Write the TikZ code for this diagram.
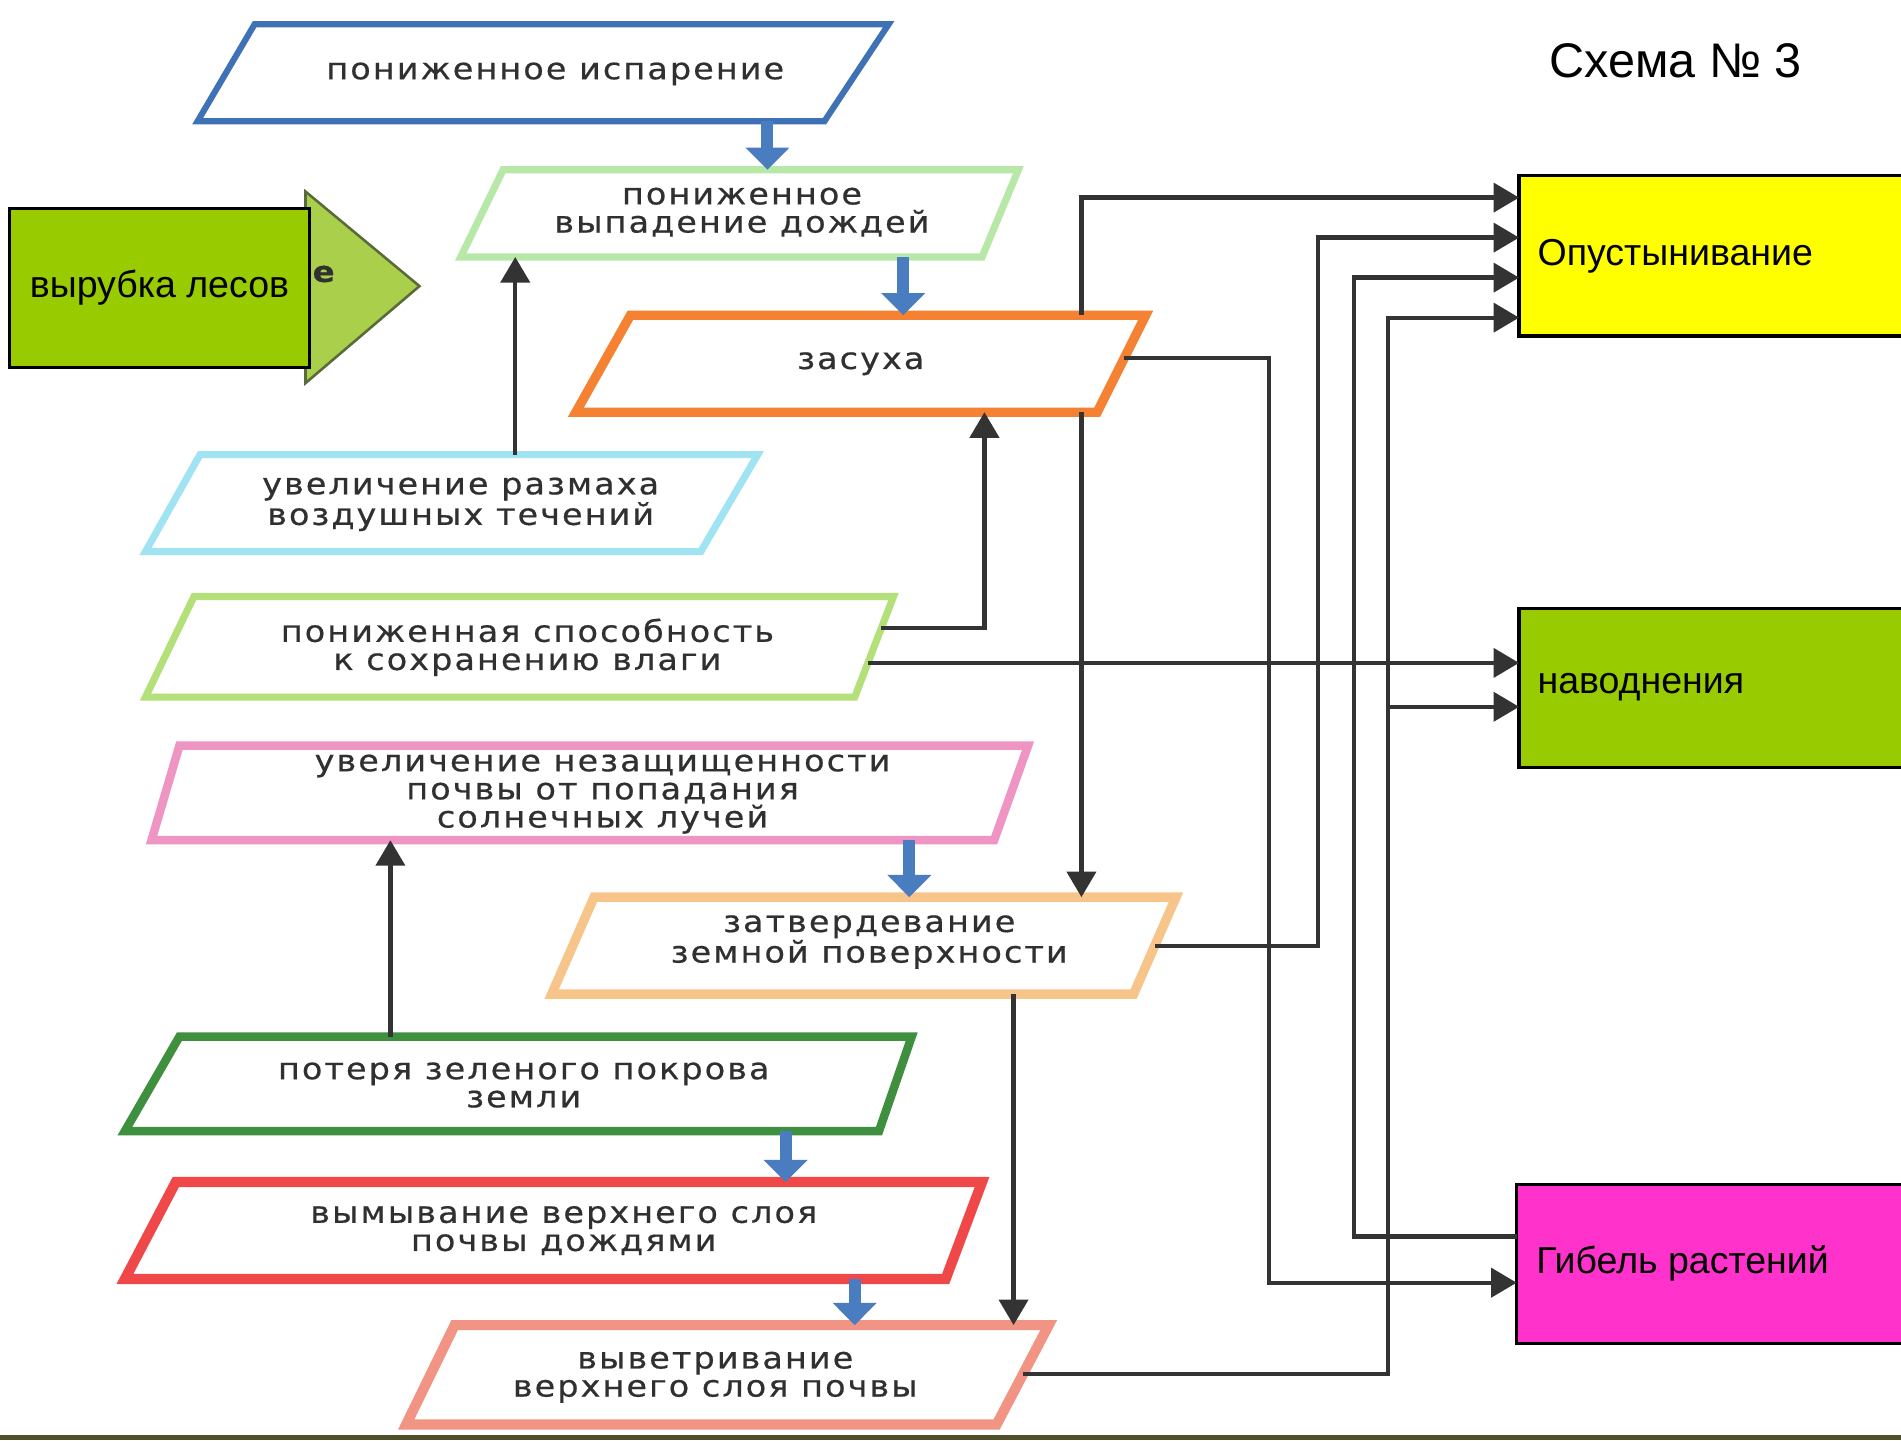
\documentclass[tikz,border=0pt]{standalone}
\usepackage{fontspec}
\setmainfont{Liberation Sans}
\newfontfamily\bookfont{DejaVu Sans}[LetterSpace=7,FakeStretch=1.12,FakeBold=0.6]
\usetikzlibrary{arrows.meta}
\definecolor{txtc}{HTML}{303030}
\definecolor{linec}{HTML}{333333}
\definecolor{arrblue}{HTML}{4A7CC0}
\definecolor{cblue}{HTML}{3F72B5}
\definecolor{clgreen}{HTML}{B8E8A8}
\definecolor{corange}{HTML}{F58232}
\definecolor{ccyan}{HTML}{A0E4F4}
\definecolor{cygreen}{HTML}{B4E07A}
\definecolor{cpink}{HTML}{EE95C3}
\definecolor{cpeach}{HTML}{F7C48A}
\definecolor{cdgreen}{HTML}{3E8F3E}
\definecolor{cred}{HTML}{F04848}
\definecolor{csalmon}{HTML}{F29484}
\definecolor{limefill}{HTML}{99CC00}
\definecolor{yelfill}{HTML}{FFFF00}
\definecolor{magfill}{HTML}{FF33CC}
\definecolor{trifill}{HTML}{A9CF4B}
\definecolor{triline}{HTML}{5A6A3A}
\definecolor{stripc}{HTML}{4F4F2A}
\newcommand\pgram[9]{%
  \coordinate (#1-tl) at (#2,#4); \coordinate (#1-tr) at (#3,#4);
  \coordinate (#1-bl) at (#5,#7); \coordinate (#1-br) at (#6,#7);
  \draw[pg,draw=#8,line width=#9] (#1-tl) -- (#1-tr) -- (#1-br) -- (#1-bl) -- cycle;}
\begin{document}
\begin{tikzpicture}[x=0.025cm,y=-0.025cm,
  pg/.style={fill=white,line join=miter},
  bt/.style={font=\bookfont\fontsize{17.5}{16.5}\selectfont,text=txtc,align=center,inner sep=0pt},
  rbox/.style={draw=black,line width=2pt,inner sep=0pt,outer sep=0pt,anchor=north west},
  rt/.style={font=\fontsize{22}{26}\selectfont,text=black,inner sep=0pt},
  blk/.style={draw=linec,line width=2.5pt,-{Triangle[width=17pt,length=15pt]}},
  bluearr/.style={draw=arrblue,line width=7pt,-{Triangle[width=25pt,length=13pt]}}]
\useasboundingbox[fill=white] (0,0) rectangle (1568,1188);
% bottom strip
\fill[stripc] (0,1184) rectangle (1568,1188);
% columns and rows
\coordinate (c322) at (322,0); \coordinate (c425) at (425,0);
\coordinate (c633) at (633,0); \coordinate (c745) at (745,0);
\coordinate (c750) at (750,0); \coordinate (c648) at (648,0);
\coordinate (c705) at (705,0); \coordinate (c812) at (812,0);
\coordinate (c836) at (836,0); \coordinate (c892) at (892,0);
\coordinate (c1047) at (1047,0); \coordinate (c1087) at (1087,0);
\coordinate (c1117) at (1117,0); \coordinate (c1145) at (1145,0);
\coordinate (r163) at (0,163); \coordinate (r196) at (0,196);
\coordinate (r229) at (0,229); \coordinate (r262) at (0,262);
\coordinate (r583) at (0,583); \coordinate (r1020) at (0,1020);
\coordinate (r1058) at (0,1058);
% parallelograms
\pgram{isp}{210}{733}{20}{163}{680}{100}{cblue}{3.6pt}
\pgram{dozh}{415}{840}{140}{380}{810}{212}{clgreen}{4.2pt}
\pgram{zas}{520}{945}{260}{475}{905}{340}{corange}{5.5pt}
\pgram{vozd}{165}{625}{375}{120}{578}{455}{ccyan}{4.2pt}
\pgram{sp}{160}{737}{492}{120}{705}{575}{cygreen}{4.2pt}
\pgram{pink}{148}{848}{615}{125}{820}{693}{cpink}{5pt}
\pgram{zat}{490}{970}{740}{455}{935}{820}{cpeach}{5.5pt}
\pgram{pot}{148}{752}{855}{103}{725}{933}{cdgreen}{5pt}
\pgram{vym}{145}{810}{975}{103}{780}{1055}{cred}{6pt}
\pgram{vyv}{375}{865}{1093}{335}{822}{1175}{csalmon}{6pt}
% texts
\node[bt] (t-isp) at (458,61) {пониженное испарение};
\node[bt] (t-dozh) at (612,175) {пониженное\\выпадение дождей};
\node[bt] (t-zas) at (710,300) {засуха};
\node[bt] (t-vozd) at (380,416) {увеличение размаха\\воздушных течений};
\node[bt] (t-sp) at (435,534) {пониженная способность\\к сохранению влаги};
\node[bt] (t-pink) at (497,655) {увеличение незащищенности\\почвы от попадания\\солнечных лучей};
\node[bt] (t-zat) at (717,777) {затвердевание\\земной поверхности};
\node[bt] (t-pot) at (432,895) {потеря зеленого покрова\\земли};
\node[bt] (t-vym) at (465,1015) {вымывание верхнего слоя\\почвы дождями};
\node[bt] (t-vyv) at (590,1136) {выветривание\\верхнего слоя почвы};
% edge points
\path (sp-tr) -- (sp-br) coordinate[pos=0.31] (sp-r1) coordinate[pos=0.66] (sp-r2);
\path (zas-tr) -- (zas-br) coordinate[pos=0.44] (zas-r);
\path (zat-tr) -- (zat-br) coordinate[pos=0.5] (zat-r);
\path (vyv-tr) -- (vyv-br) coordinate[pos=0.49] (vyv-r);
% right boxes
\node[rbox,fill=yelfill,minimum width=8.2cm,minimum height=3.3cm] (opus) at (1253,145) {};
\node[rt,anchor=west] (t-opus) at (1268,211) {Опустынивание};
\node[rbox,fill=limefill,minimum width=8.2cm,minimum height=3.275cm] (nav) at (1253,502) {};
\node[rt,anchor=west] (t-nav) at (1268,567) {наводнения};
\node[rbox,fill=magfill,minimum width=8.25cm,minimum height=3.275cm] (gib) at (1251,977) {};
\node[rt,anchor=west] (t-gib) at (1267,1042) {Гибель растений};
% triangle and left box
\draw[fill=trifill,draw=triline,line width=1.5pt,line join=miter] (252,158) -- (346,236) -- (252,316) -- cycle;
\node[font=\bookfont\bfseries\fontsize{17}{17}\selectfont,text=txtc,inner sep=0pt] (t-e) at (267,226) {е};
\node[rbox,fill=limefill,minimum width=6.175cm,minimum height=3.275cm] (vyr) at (8,172) {};
\node[rt] (t-vyr) at (vyr.center) {вырубка лесов};
% title
\node[font=\fontsize{28.5}{32}\selectfont,inner sep=0pt] (title) at (1382,50) {Схема № 3};
% blue arrows
\draw[bluearr] (c633 |- isp-bl) -- (c633 |- dozh-tl);
\draw[bluearr] (c745 |- dozh-bl) -- (c745 |- zas-tl);
\draw[bluearr] (c750 |- pink-bl) -- (c750 |- zat-tl);
\draw[bluearr] (c648 |- pot-bl) -- (c648 |- vym-tl);
\draw[bluearr] (c705 |- vym-bl) -- (c705 |- vyv-tl);
% black connectors
\draw[blk] (c425 |- vozd-tl) -- (c425 |- dozh-bl);
\draw[blk] (sp-r1) -| (c812 |- zas-bl);
\draw[blk] (sp-r2) -- (sp-r2 -| nav.west);
\draw[blk] (c892 |- zas-tl) |- (r163 -| opus.west);
\draw[blk] (c892 |- zas-bl) -- (c892 |- zat-tl);
\draw[blk] (zas-r) -| (c1047 |- r1058) -- (r1058 -| gib.west);
\draw[blk] (zat-r) -| (c1087 |- r196) -- (r196 -| opus.west);
\draw[blk] (r1020 -| gib.west) -| (c1117 |- r229) -- (r229 -| opus.west);
\draw[blk] (vyv-r) -| (c1145 |- r262) -- (r262 -| opus.west);
\draw[blk] (c1145 |- r583) -- (r583 -| nav.west);
\draw[blk] (c836 |- zat-bl) -- (c836 |- vyv-tl);
\draw[blk] (c322 |- pot-tl) -- (c322 |- pink-bl);
\end{tikzpicture}
\end{document}
